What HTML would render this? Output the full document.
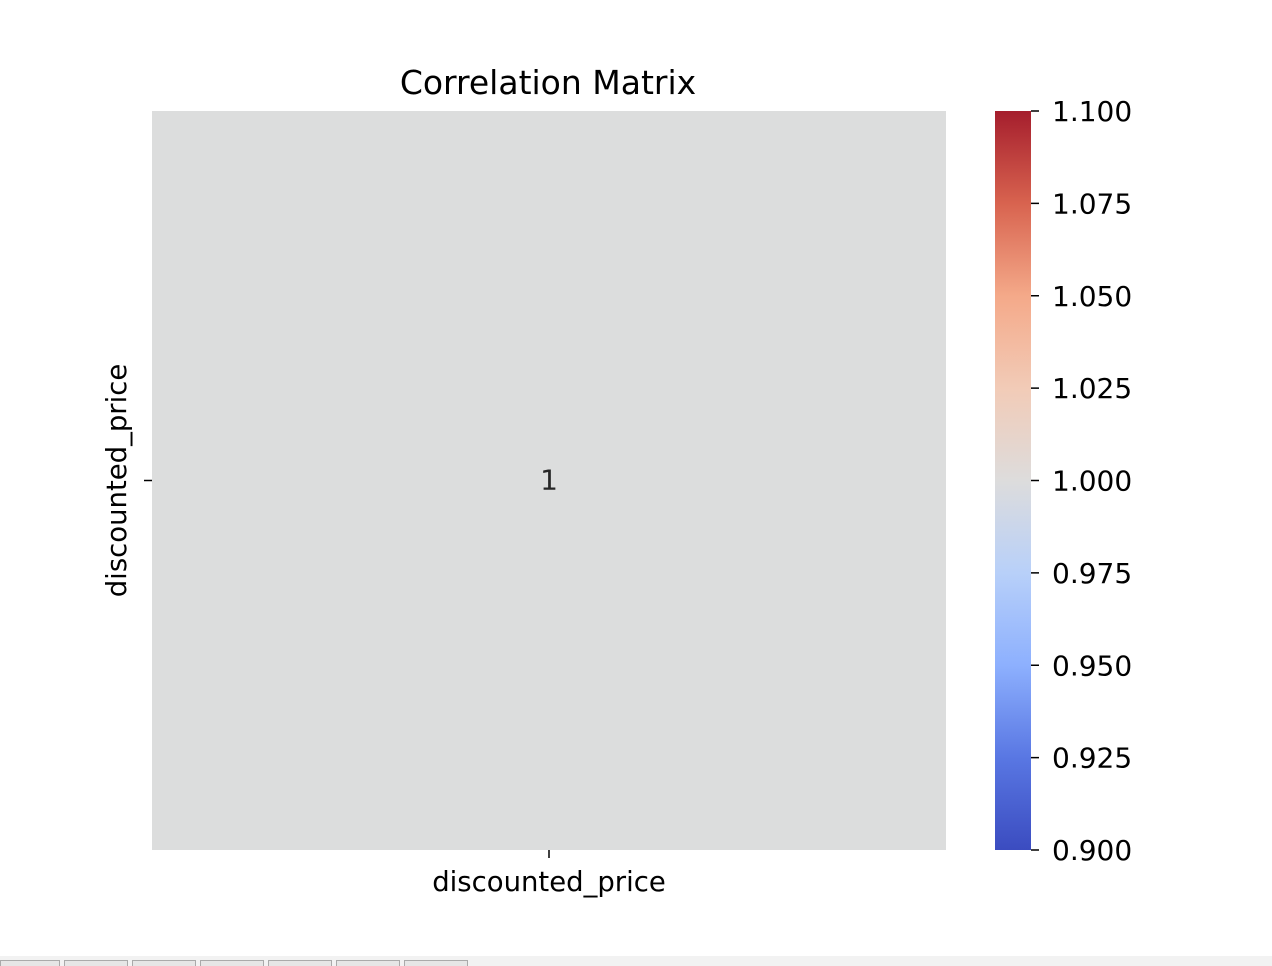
<!DOCTYPE html>
<html><head><meta charset="utf-8"><style>
html,body{margin:0;padding:0;background:#fff;width:1272px;height:966px;overflow:hidden}
svg{display:block;font-family:"DejaVu Sans","Liberation Sans",sans-serif}
</style></head><body>
<svg width="1272" height="966">
<defs>
<linearGradient id="cw" x1="0" y1="1" x2="0" y2="0">
<stop offset="0" stop-color="#3b4cc0"/>
<stop offset="0.125" stop-color="#5977e3"/>
<stop offset="0.25" stop-color="#8db0fe"/>
<stop offset="0.375" stop-color="#b8d0f9"/>
<stop offset="0.5" stop-color="#dddcdc"/>
<stop offset="0.625" stop-color="#f2cbb7"/>
<stop offset="0.75" stop-color="#f4a989"/>
<stop offset="0.875" stop-color="#d8634f"/>
<stop offset="1" stop-color="#a51e2d"/>
</linearGradient>
</defs>
<text x="548" y="94" text-anchor="middle" font-size="33">Correlation Matrix</text>
<g id="cells"></g>
<g id="cbar"></g>
<rect x="0" y="956" width="1272" height="10" fill="#f2f2f2"/>
<g id="tabs"></g>
</svg>
<script>
const labels = ["discounted_price"];
const matrix = [[1]];
const cbarTicks = [0.9, 0.925, 0.95, 0.975, 1.0, 1.025, 1.05, 1.075, 1.1];
const vmin = 0.9, vmax = 1.1;
const NS = "http://www.w3.org/2000/svg";
function mk(t, a, p){const e=document.createElementNS(NS,t);for(const k in a)e.setAttribute(k,a[k]);p.appendChild(e);return e;}
const X0=152,X1=946,Y0=111,Y1=850;
const n=labels.length, cw=(X1-X0)/n, ch=(Y1-Y0)/n;
const cells=document.getElementById('cells');
matrix.forEach((row,i)=>row.forEach((v,j)=>{
  const r=mk('rect',{x:X0+j*cw,y:Y0+i*ch,width:cw,height:ch,fill:'#dcdddd'},cells);
  
  
  const t=mk('text',{x:X0+(j+0.5)*cw,y:Y0+(i+0.5)*ch+9,'text-anchor':'middle','font-size':'28',fill:'#262626'},cells);
  t.textContent=String(v);
  
  
}));
labels.forEach((l,i)=>{
  const cx=X0+(i+0.5)*cw, cy=Y0+(i+0.5)*ch;
  mk('line',{x1:cx,y1:Y1,x2:cx,y2:Y1+8,stroke:'#000','stroke-width':1.5},cells);
  const tx=mk('text',{x:cx,y:Y1+41,'text-anchor':'middle','font-size':'27.5'},cells);
  tx.textContent=l;
  
  
  mk('line',{x1:X0-8,y1:cy,x2:X0,y2:cy,stroke:'#000','stroke-width':1.5},cells);
  const ty=mk('text',{x:0,y:0,'text-anchor':'middle','font-size':'27.5',transform:`translate(126,${cy}) rotate(-90)`},cells);
  ty.textContent=l;
  
  
});
const cb=document.getElementById('cbar');
const CX0=995,CX1=1031;
const cr=mk('rect',{x:CX0,y:Y0,width:CX1-CX0,height:Y1-Y0,fill:'url(#cw)'},cb);


const cy=v=>Y1-(v-vmin)/(vmax-vmin)*(Y1-Y0);
cbarTicks.forEach(v=>{
  const y=cy(v);
  mk('line',{x1:CX1,y1:y,x2:CX1+8,y2:y,stroke:'#000','stroke-width':1.5},cb);
  const t=mk('text',{x:CX1+21,y:y+10,'font-size':'28'},cb);
  t.textContent=v.toFixed(3);
  
  
});
const tabs=document.getElementById('tabs');
[0,64,132,200,268,336,404].forEach((x,i)=>{
  const w=i==0?59:63;
  const r=mk('rect',{x:x+0.5,y:960.5,width:w,height:10,fill:'#e6e6e6',stroke:'#aaa'},tabs);
  
  
});
</script>
</body></html>
